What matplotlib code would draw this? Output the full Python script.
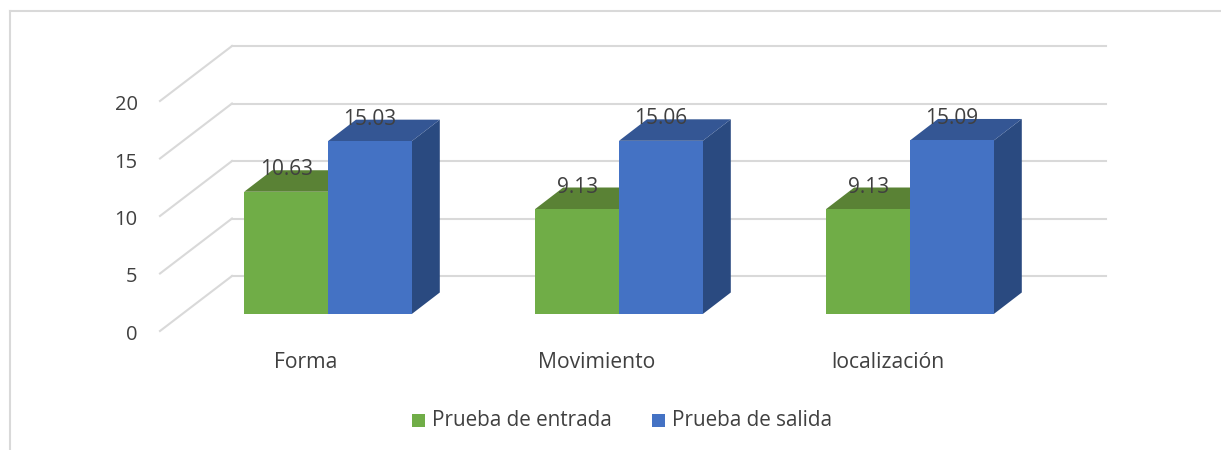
import matplotlib
matplotlib.use("Agg")
import matplotlib.pyplot as plt
from matplotlib.patches import Polygon, Rectangle

matplotlib.rcParams["font.family"] = ["Open Sans", "DejaVu Sans"]

# data
categories = ["Forma", "Movimiento", "localización"]
entrada = [10.63, 9.13, 9.13]
salida = [15.03, 15.06, 15.09]
entrada_labels = ["10.63", "9.13", "9.13"]
salida_labels = ["15.03", "15.06", "15.09"]
y_ticks = [0, 5, 10, 15, 20]
series_names = ["Prueba de entrada", "Prueba de salida"]

# colours
GREEN, GREEN_TOP, GREEN_SIDE = "#70AD47", "#5A8235", "#4F7A30"
BLUE, BLUE_TOP, BLUE_SIDE = "#4472C4", "#345694", "#2A4A80"
GRID = "#D9D9D9"
TEXT = "#404040"

W, H = 1221, 450
PX_PER_X = 291.0   # px between categories
PX_PER_Y = 11.5    # px per value unit
X0, Y0 = 328.0, 314.0  # pixel position of first category centre, value 0 on bar front

fig = plt.figure(figsize=(W / 100, H / 100), dpi=100, facecolor="white")
ax = fig.add_axes([0, 0, 1, 1])
ax.set_xlim(-X0 / PX_PER_X, (W - X0) / PX_PER_X)
ax.set_ylim((Y0 - H) / PX_PER_Y, Y0 / PX_PER_Y)
ax.axis("off")

bar_w = 83.8 / PX_PER_X
depth_x = 28 / PX_PER_X
depth_y = 21.5 / PX_PER_Y

# wall and floor offsets relative to the bar plane
wall_left = (160 - X0) / PX_PER_X
wall_back = (232 - X0) / PX_PER_X
wall_right = (1106 - X0) / PX_PER_X
front_dy = (Y0 - 331) / PX_PER_Y
back_dy = (Y0 - 276) / PX_PER_Y
label_dy = 22 / PX_PER_Y

for t in y_ticks:
    ax.plot([wall_left, wall_back], [t + front_dy, t + back_dy], color=GRID, lw=1.5, zorder=1)
    ax.plot([wall_back, wall_right], [t + back_dy, t + back_dy], color=GRID, lw=1.5, zorder=1)
    ax.text((137.5 - X0) / PX_PER_X, t + front_dy - 4.0 / PX_PER_Y, str(t),
            ha="right", va="center", fontsize=14.5, color=TEXT)


def draw_bar(x0, v, front, top, side):
    x1 = x0 + bar_w
    ax.add_patch(Polygon([(x1, 0), (x1 + depth_x, depth_y), (x1 + depth_x, v + depth_y), (x1, v)],
                         facecolor=side, edgecolor="none", zorder=3))
    ax.add_patch(Polygon([(x0, v), (x0 + depth_x, v + depth_y), (x1 + depth_x, v + depth_y), (x1, v)],
                         facecolor=top, edgecolor="none", zorder=3))
    ax.add_patch(Rectangle((x0, 0), bar_w, v, facecolor=front, edgecolor="none", zorder=4))


for i, cat in enumerate(categories):
    draw_bar(i - bar_w, entrada[i], GREEN, GREEN_TOP, GREEN_SIDE)
    draw_bar(i, salida[i], BLUE, BLUE_TOP, BLUE_SIDE)
    ax.text(i - bar_w / 2, entrada[i] + label_dy, entrada_labels[i],
            ha="center", va="center", fontsize=15, color=TEXT, zorder=6)
    ax.text(i + bar_w / 2, salida[i] + label_dy, salida_labels[i],
            ha="center", va="center", fontsize=15, color=TEXT, zorder=6)
    ax.text(i - 0.076, (Y0 - 363) / PX_PER_Y, cat, ha="center", va="center", fontsize=15.2, color=TEXT)

# legend built from proxy squares
ly = (Y0 - 420) / PX_PER_Y
for px, name, col in zip([412, 652], series_names, [GREEN, BLUE]):
    ax.add_patch(Rectangle(((px - X0) / PX_PER_X, ly - 6.5 / PX_PER_Y), 13 / PX_PER_X, 13 / PX_PER_Y,
                           facecolor=col, edgecolor="none"))
    ax.text((px + 20 - X0) / PX_PER_X, ly, name, ha="left", va="center", fontsize=14.9, color=TEXT)

# outer chart frame, only top and left visible
ax.plot([(10 - X0) / PX_PER_X, (W - X0) / PX_PER_X], [(Y0 - 11) / PX_PER_Y] * 2, color=GRID, lw=1.5)
ax.plot([(10 - X0) / PX_PER_X] * 2, [(Y0 - 11) / PX_PER_Y, (Y0 - H) / PX_PER_Y], color=GRID, lw=1.5)

fig.savefig("out.png", dpi=100, facecolor="white")
